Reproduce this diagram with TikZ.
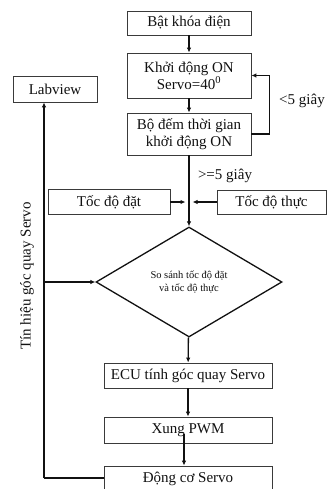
\documentclass[tikz,border=0pt]{standalone}
\usepackage{fontspec}
\setmainfont{Liberation Serif}
\usepackage{xcolor}
\usepackage{tikz}
\usetikzlibrary{calc,arrows.meta,shapes.geometric}
\definecolor{ink}{HTML}{111111}
\definecolor{edge}{HTML}{3A3A3A}
\tikzset{
  box/.style={draw=edge, line width=0.8pt, fill=white, text=ink,
    minimum width=124pt, minimum height=24pt, inner sep=1pt, align=center,
    font=\fontsize{15}{17}\selectfont},
  conn/.style={draw=ink, line width=1.3pt, -{Latex[length=5pt,width=4.5pt]}},
  wire/.style={draw=ink, line width=1.3pt},
  lbl/.style={text=ink, inner sep=1pt, font=\fontsize{15}{17}\selectfont}
}

\begin{document}
\begin{tikzpicture}[x=1pt,y=1pt]
  \useasboundingbox (0,0) rectangle (328,-489);

  % main column
  \node[box] (start) at (189,-23) {Bật khóa điện};
  \node[box, minimum height=45pt] (init) at (189,-75.5) {Khởi động ON\\Servo=40\textsuperscript{0}};
  \node[box, minimum height=42pt] (timer) at (189,-134) {Bộ đếm thời gian\\khởi động ON};
  \node[box, minimum width=84pt, minimum height=26pt] (labview) at (55,-89) {Labview};

  % speed inputs
  \node[box, minimum width=122pt, minimum height=25pt] (setspd) at (109,-202) {Tốc độ đặt};
  \node[box, minimum width=109pt] (realspd) at (271.5,-202) {Tốc độ thực};

  \node[draw=ink, line width=1.3pt, diamond, aspect=1.69, minimum width=186pt,
    minimum height=110pt, inner sep=0pt, align=center, text=ink,
    font=\fontsize{10.5}{13}\selectfont] (cmp) at (189,-282)
    {So sánh tốc độ đặt\\và tốc độ thực};

  \node[box, minimum width=168pt, minimum height=25pt] (ecu) at (188,-375.5) {ECU tính góc quay Servo};
  \node[box, minimum width=168pt, minimum height=26pt] (pwm) at (188,-430) {Xung PWM};
  \node[box, minimum width=168pt, minimum height=25pt] (motor) at (188,-478.5) {Động cơ Servo};

  % labels
  \node[lbl] (lt5) at (302,-101) {<5 giây};
  \node[lbl] (ge5) at (225,-176) {>=5 giây};
  \node[lbl, rotate=90] (fbtxt) at (27,-276) {Tín hiệu góc quay Servo};

  % connectors
  \draw[conn] (start) -- (init);
  \draw[conn] (init) -- (timer);
  \draw[conn] (timer.east) -- ++(18,0) |- (init.east);
  \draw[conn] (timer) -- (cmp);

  \coordinate (mix) at (189,-202);
  \draw[conn] (setspd) -- ([xshift=-3.5pt]mix);
  \draw[conn] (realspd) -- ([xshift=3.5pt]mix);

  \draw[conn] (cmp) -- (ecu);
  \draw[conn] (ecu) -- (pwm);
  \draw[conn] ([xshift=-4pt,yshift=-4pt]pwm.center) -- ([xshift=-4pt]motor.north);

  % feedback
  \coordinate (fbl) at (44,-478);
  \draw[wire] (motor.west |- fbl) -- (fbl);
  \draw[conn] (fbl) -- (fbl |- labview.south);
  \draw[conn] (fbl |- cmp.west) -- (cmp.west);
\end{tikzpicture}
\end{document}
